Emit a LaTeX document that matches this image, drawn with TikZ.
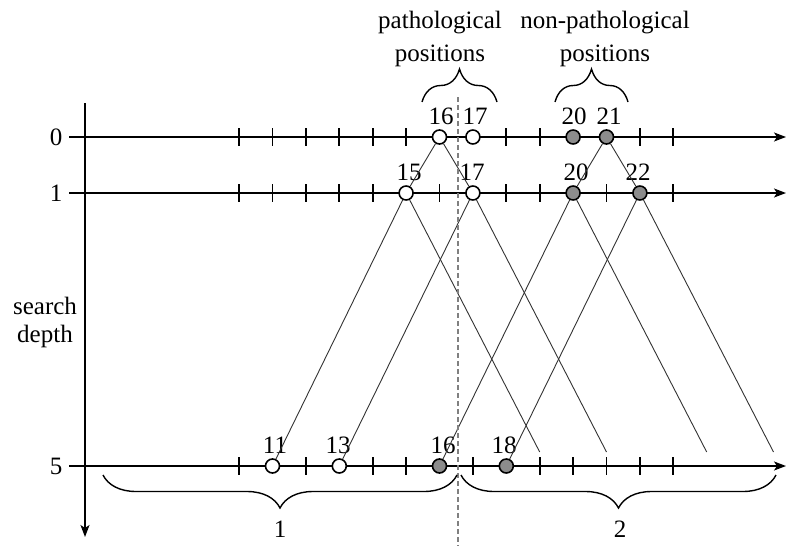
\documentclass[tikz,border=0pt]{standalone}
\usepackage{fontspec}
\setmainfont{Liberation Serif}
\usetikzlibrary{arrows.meta,decorations.pathreplacing}

\begin{document}
\begin{tikzpicture}[x=1pt,y=-1pt,
  axis/.style={line width=1.8pt, -{Stealth[length=12pt,width=9pt,inset=3pt]}},
  tickmark/.style={line width=1.8pt},
  lbl/.style={font=\fontsize{25}{30}\selectfont, inner sep=0pt, anchor=base},
  posw/.style={circle, draw, line width=1.6pt, fill=white, minimum size=14pt, inner sep=0pt},
  posg/.style={posw, fill=black!45},
  link/.style={draw=black!80, line width=0.9pt},
  bracedeco/.style={decorate, decoration={brace, amplitude=33pt}, line width=1.4pt},
  split/.style={draw=black!50, line width=1.2pt, dash pattern=on 5pt off 3pt}
]
\useasboundingbox (0,0) rectangle (787,546);

% axes
\draw[axis] (85,103) -- (85,537);
\foreach \y in {137,193,466} \draw[axis] (69,\y) -- (786,\y);

% ticks on each depth line
\foreach \x in {239.1,272.5,305.9,339.3,372.7,406.1,506.3,539.7,639.9,673.3}
  \draw[tickmark] (\x,128) -- (\x,146);
\foreach \x in {239.1,272.5,305.9,339.3,372.7,439.5,506.3,539.7,606.5,673.3}
  \draw[tickmark] (\x,184) -- (\x,202);
\foreach \x in {239.1,305.9,372.7,406.1,472.9,539.7,573.1,606.5,639.9,673.3}
  \draw[tickmark] (\x,457) -- (\x,475);

% depth labels
\node[lbl, anchor=center] (d0) at (56,137) {0};
\node[lbl, anchor=center] (d1) at (56,193) {1};
\node[lbl, anchor=center] (d5) at (56,466) {5};
\node[lbl, anchor=base] (sd1) at (45,314) {search};
\node[lbl, anchor=base] (sd2) at (45,342) {depth};

% positions
\node[posw] (r0n16) at (439.5,137) {};
\node[posw] (r0n17) at (472.9,137) {};
\node[posg] (r0n20) at (573.1,137) {};
\node[posg] (r0n21) at (606.5,137) {};

\node[posw] (r1n15) at (406.1,193) {};
\node[posw] (r1n17) at (472.9,193) {};
\node[posg] (r1n20) at (573.1,193) {};
\node[posg] (r1n22) at (639.9,193) {};

\node[posw] (r5n11) at (272.5,466) {};
\node[posw] (r5n13) at (339.3,466) {};
\node[posg] (r5n16) at (439.5,466) {};
\node[posg] (r5n18) at (506.3,466) {};

\coordinate (e19) at (539.7,452);
\coordinate (e21) at (606.5,452);
\coordinate (e24) at (706.7,452);
\coordinate (e26) at (773.5,452);

% position numbers
\node[lbl] (t0a) at (441,124) {16};
\node[lbl] (t0b) at (475,124) {17};
\node[lbl] (t0c) at (574,124) {20};
\node[lbl] (t0d) at (609,124) {21};
\node[lbl] (t1a) at (409,180) {15};
\node[lbl] (t1b) at (472,180) {17};
\node[lbl] (t1c) at (576,180) {20};
\node[lbl] (t1d) at (638,180) {22};
\node[lbl] (t5a) at (275,453) {11};
\node[lbl] (t5b) at (338,453) {13};
\node[lbl] (t5c) at (443,453) {16};
\node[lbl] (t5d) at (504,453) {18};

% moves between depths
\draw[link] (r0n16) -- (r1n15);
\draw[link] (r0n16) -- (r1n17);
\draw[link] (r0n21) -- (r1n20);
\draw[link] (r0n21) -- (r1n22);
\draw[link] (r1n15) -- (r5n11);
\draw[link] (r1n15) -- (e19);
\draw[link] (r1n17) -- (r5n13);
\draw[link] (r1n17) -- (e21);
\draw[link] (r1n20) -- (r5n16);
\draw[link] (r1n20) -- (e24);
\draw[link] (r1n22) -- (r5n18);
\draw[link] (r1n22) -- (e26);

% separator
\coordinate (sTop) at (458,97);
\coordinate (sBot) at (458,546);
\draw[split] (sTop) -- (sBot);

% top braces and captions
\draw[bracedeco] (422,102) -- (497,102);
\draw[bracedeco] (555,102) -- (628,102);
\node[lbl] (pa1) at (440,28) {pathological};
\node[lbl] (pa2) at (440,61) {positions};
\node[lbl] (np1) at (605,28) {non-pathological};
\node[lbl] (np2) at (605,61) {positions};

% bottom braces and captions
\draw[bracedeco] (457,475) -- (103,475);
\draw[bracedeco] (776,475) -- (461,475);
\node[lbl] (g1) at (280,537) {1};
\node[lbl] (g2) at (620,537) {2};
\end{tikzpicture}
\end{document}
